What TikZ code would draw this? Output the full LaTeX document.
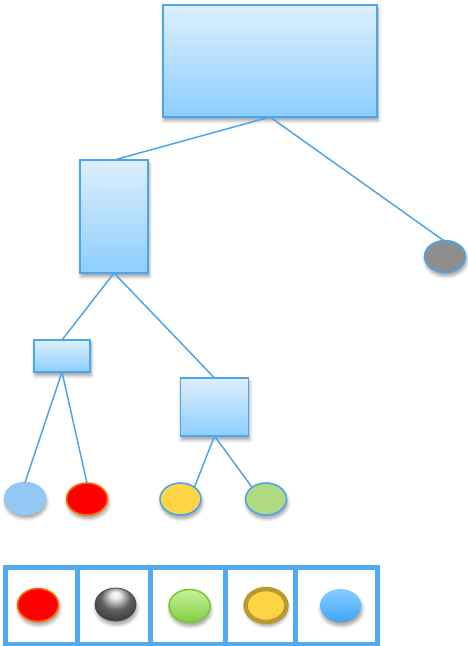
\documentclass[tikz,border=0pt]{standalone}
\usetikzlibrary{shapes.geometric,shadows.blur}

\definecolor{lineblue}{HTML}{4DA5EA}
\definecolor{frameblue}{HTML}{52ABEE}
\definecolor{boxtop}{HTML}{DDEFFD}
\definecolor{boxbot}{HTML}{8CCEFE}
\definecolor{paleblue}{HTML}{94C8F4}
\definecolor{redfill}{HTML}{FF0000}
\definecolor{redrim}{HTML}{FF6A00}
\definecolor{yellowfill}{HTML}{FDD446}
\definecolor{greenfill}{HTML}{B0DA82}
\definecolor{greyfill}{HTML}{8E8E8E}
\definecolor{olive}{HTML}{B89A2E}
\definecolor{limetop}{HTML}{C4F29A}
\definecolor{limebot}{HTML}{84CC44}
\definecolor{limerim}{HTML}{7CC832}
\definecolor{skytop}{HTML}{86CCFF}
\definecolor{skybot}{HTML}{3EA6FA}

% glossy grey bead: bright spot near the top, dark rim
\pgfdeclareradialshading{greybead}{\pgfpoint{0bp}{16bp}}{%
  color(0bp)=(white); color(6bp)=(white!80!gray); color(18bp)=(gray!75!black);
  color(30bp)=(black!75); color(50bp)=(black!80)}

\tikzset{
  softshadow/.style={blur shadow={shadow xshift=1pt, shadow yshift=-3.5pt,
      shadow blur radius=3.5pt, shadow blur steps=6, shadow opacity=40}},
  box/.style={rectangle, draw=lineblue, line width=1.6pt, top color=boxtop,
      bottom color=boxbot, inner sep=0pt, outer sep=0pt, softshadow},
  leaf/.style={ellipse, draw=lineblue, line width=1.6pt, inner sep=0pt,
      outer sep=0pt, minimum width=41pt, minimum height=32pt, softshadow},
  link/.style={draw=lineblue, line width=1.5pt},
  frame/.style={draw=frameblue, line width=4.5pt},
  swatch/.style={ellipse, inner sep=0pt, outer sep=0pt,
      minimum width=41pt, minimum height=33pt, softshadow},
}

\begin{document}
\begin{tikzpicture}[x=1pt, y=-1pt]
\useasboundingbox (0,0) rectangle (467,646);

% tree boxes
\node[box, minimum width=214pt, minimum height=112pt] (root) at (270,61) {};
\node[box, minimum width=68pt, minimum height=113pt] (mid) at (114,216.5) {};
\node[box, minimum width=56pt, minimum height=32pt] (small) at (62,356) {};
\node[box, minimum width=68pt, minimum height=58pt] (square) at (214.5,407) {};

% tree leaves
\node[leaf, fill=greyfill] (grey) at (445,256.5) {};
\node[leaf, draw=paleblue, fill=paleblue] (pale) at (25,498.5) {};
\node[leaf, draw=redrim, fill=redfill] (red) at (87,499) {};
\node[leaf, fill=yellowfill] (yellow) at (180.5,499) {};
\node[leaf, fill=greenfill] (green) at (266,499) {};

% connectors
\draw[link] (root.south) -- (mid.north);
\draw[link] (root.south) -- (grey.95);
\draw[link] (mid.south) -- (small.north);
\draw[link] (mid.south) -- (square.north);
\draw[link] (small.south) -- (pale.north);
\draw[link] (small.south) -- (red.north);
\draw[link] (square.south) -- (yellow.40);
\draw[link] (square.south) -- (green.140);

% legend strip
\draw[frame] (5.5,567.5) rectangle (377.5,644);
\foreach \xx in {77.5,150.5,225.5,295.5}
  \draw[frame] (\xx,567.5) -- (\xx,644);

\node[swatch, draw=redrim, line width=1.6pt, fill=redfill] (kred) at (38,605) {};
\node[swatch, draw=black!70, line width=0.8pt, shading=greybead] (kgrey) at (115.5,604.5) {};
\node[swatch, draw=limerim, line width=1.6pt, top color=limetop, bottom color=limebot] (kgreen) at (189.5,606) {};
\node[swatch, draw=olive, line width=4.5pt, fill=yellowfill] (kyellow) at (266,605.5) {};
\node[swatch, top color=skytop, bottom color=skybot] (kblue) at (340.5,605.5) {};
\end{tikzpicture}
\end{document}
